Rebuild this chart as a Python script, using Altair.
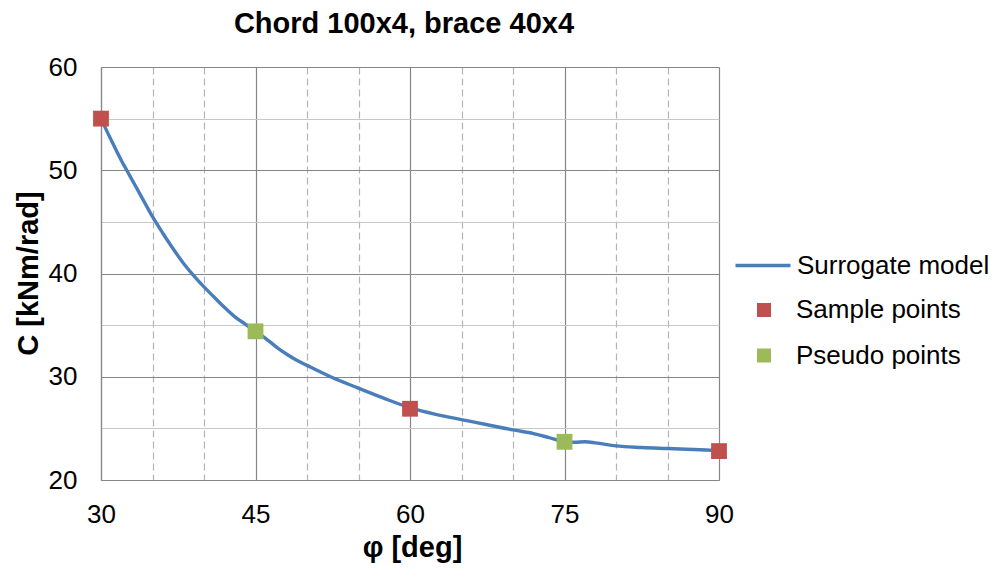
import altair as alt
import pandas as pd

# ---- data ----
curve_phi = [30, 31, 32, 32.5, 33, 34, 35, 36, 37, 38, 39, 40, 41, 42, 43, 44, 45,
             46, 47, 48, 49, 50, 52.5, 55, 57.5, 60, 62.5, 65, 67.5, 70, 72, 73.5,
             75, 76, 77, 78, 80, 82.5, 85, 87.5, 90]
curve_c = [55.0, 52.9, 50.9, 50.0, 49.1, 47.3, 45.5, 43.9, 42.4, 41.0, 39.8, 38.7,
           37.7, 36.7, 35.8, 35.1, 34.4, 33.7, 32.9, 32.2, 31.6, 31.1, 29.9, 28.9,
           27.9, 27.0, 26.35, 25.85, 25.35, 24.85, 24.5, 24.1, 23.7, 23.65, 23.7,
           23.6, 23.3, 23.15, 23.05, 22.95, 22.85]
sample_phi = [30, 60, 90]
sample_c = [55.0, 26.9, 22.8]
pseudo_phi = [45, 75]
pseudo_c = [34.4, 23.7]
x_ticks = [30, 35, 40, 45, 50, 55, 60, 65, 70, 75, 80, 85, 90]
y_ticks = [20, 25, 30, 35, 40, 45, 50, 55, 60]
series_names = ["Surrogate model", "Sample points", "Pseudo points"]
series_colors = ["#4A7EBB", "#C0504D", "#9BBB59"]

curve_df = pd.DataFrame({"phi": curve_phi, "C": curve_c,
                         "series": [series_names[0]] * len(curve_phi)})
pts_df = pd.DataFrame({
    "phi": sample_phi + pseudo_phi,
    "C": sample_c + pseudo_c,
    "series": [series_names[1]] * len(sample_phi) + [series_names[2]] * len(pseudo_phi),
})

FONT = "Liberation Sans"
MAJOR = "#868686"

x_enc = alt.X(
    "phi:Q",
    scale=alt.Scale(domain=[30, 90], nice=False, zero=False),
    axis=alt.Axis(
        values=x_ticks,
        labelExpr="datum.value % 15 === 0 ? datum.label : ''",
        labelOverlap=False,
        labelFlush=False,
        labelPadding=21,
        ticks=False,
        title="φ [deg]",
        titleX=311,
        titleY=67,
        titleAlign="center",
        titleBaseline="middle",
        gridColor={"condition": {"test": "datum.value % 15 === 0", "value": MAJOR},
                   "value": "#B4B4B4"},
        gridDash={"condition": {"test": "datum.value % 15 === 0", "value": []},
                  "value": [7, 4]},
    ),
)
y_enc = alt.Y(
    "C:Q",
    scale=alt.Scale(domain=[20, 60], nice=False, zero=False),
    axis=alt.Axis(
        values=y_ticks,
        labelExpr="datum.value % 10 === 0 ? datum.label : ''",
        labelOverlap=False,
        labelFlush=False,
        labelPadding=24,
        ticks=False,
        title="C [kNm/rad]",
        titleX=-73,
        titleY=206,
        titleAlign="center",
        titleBaseline="middle",
        gridColor={"condition": {"test": "datum.value % 10 === 0", "value": MAJOR},
                   "value": "#C8C8C8"},
    ),
)

line = alt.Chart(curve_df).mark_line(strokeWidth=3.4, interpolate="monotone").encode(
    x=x_enc,
    y=y_enc,
    color=alt.Color(
        "series:N",
        scale=alt.Scale(domain=series_names[:1], range=series_colors[:1]),
        legend=alt.Legend(
            orient="none", legendX=632.5, legendY=169, padding=0,
            title=None, symbolType="stroke", symbolSize=3025, symbolStrokeWidth=3.4,
            labelOffset=4.5, labelFontSize=26, labelFont=FONT, labelColor="#000000",
            labelLimit=400,
        ),
    ),
)

pts = alt.Chart(pts_df).mark_point(shape="square", filled=True, size=250, opacity=1,
                                   strokeWidth=0).encode(
    x=x_enc,
    y=y_enc,
    fill=alt.Fill(
        "series:N",
        scale=alt.Scale(domain=series_names[1:], range=series_colors[1:]),
        legend=alt.Legend(
            orient="none", legendX=650, legendY=230, padding=0,
            title=None, symbolType="square", symbolSize=196, symbolStrokeWidth=0,
            labelOffset=19, rowPadding=19.5, labelFontSize=26, labelFont=FONT,
            labelColor="#000000", labelLimit=400,
        ),
    ),
)

chart = alt.layer(line, pts).properties(
    width=618,
    height=413,
    autosize=alt.AutoSizeParams(type="none"),
    padding={"left": 93, "top": 59, "right": 272, "bottom": 84},
    title=alt.Title("Chord 100x4, brace 40x4", font=FONT, fontSize=29,
                    fontWeight="bold", color="#000000", frame="group",
                    anchor="middle", offset=15, dx=-6),
).configure_axis(
    labelFont=FONT, labelFontSize=26, labelColor="#000000",
    titleFont=FONT, titleFontSize=29, titleFontWeight="bold", titleColor="#000000",
    domainColor=MAJOR, domainWidth=1.2, gridWidth=1.2, gridOpacity=1,
).configure_view(stroke=None)

chart.save("out.html", embed_options={"renderer": "svg", "actions": False})
